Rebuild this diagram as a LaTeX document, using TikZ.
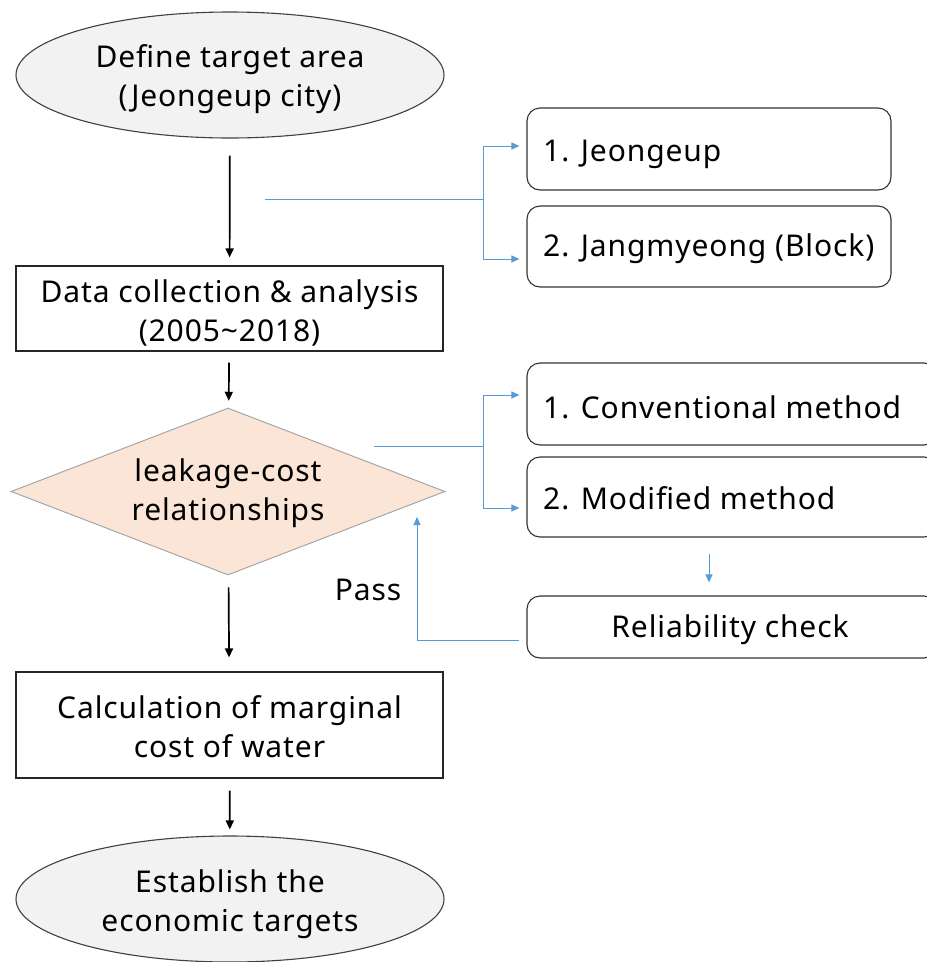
\documentclass[tikz,border=0pt]{standalone}
\usepackage{fontspec}
\setmainfont[LetterSpace=3]{Noto Sans}
\usetikzlibrary{shapes.geometric,arrows.meta,calc}
\definecolor{ellfill}{HTML}{F2F2F2}
\definecolor{ellline}{HTML}{404040}
\definecolor{diafill}{HTML}{FBE5D6}
\definecolor{dialine}{HTML}{A6A6A6}
\definecolor{bl}{HTML}{5B9BD5}
\tikzset{
  txt/.style={font=\fontsize{30}{39}\selectfont, inner sep=0pt},
  term/.style={ellipse, draw=ellline, fill=ellfill, line width=1.1pt, minimum width=428pt, minimum height=126pt, inner sep=0pt},
  procbox/.style={rectangle, draw=black!85, line width=1.1pt, minimum width=427pt, inner sep=0pt},
  decis/.style={diamond, draw=dialine, fill=diafill, line width=1pt, minimum width=434pt, minimum height=167pt, inner sep=0pt},
  optbox/.style={rectangle, rounded corners=13pt, draw=black!80, line width=1.1pt, inner sep=0pt},
  blarr/.style={draw=bl, line width=1pt, -{Triangle[length=8pt,width=7pt]}},
  blline/.style={draw=bl, line width=1pt},
  blkarr/.style={draw=black, line width=1.7pt, -{Triangle[length=9pt,width=8pt]}},
}
\begin{document}
\begin{tikzpicture}[x=1pt,y=-1pt]
\useasboundingbox (0,0) rectangle (927,962);
% main column shapes
\node[term] (top) at (230,75) {};
\node[procbox, minimum height=85pt] (data) at (229.5,308.5) {};
\node[decis] (dia) at (228,491.5) {};
\node[procbox, minimum height=106pt] (calc) at (229.5,725) {};
\node[term] (bot) at (230,899) {};
% main column texts
\node[txt, align=center] (toptext) at (230,79) {Define target area\\(Jeongeup city)};
\node[txt, align=center] (datatext) at (229.5,313) {Data collection \& analysis\\(2005\textasciitilde 2018)};
\node[txt, align=center] (diatext) at (228,493.5) {leakage-cost\\relationships};
\node[txt, align=center] (calctext) at (229.5,727) {Calculation of marginal\\cost of water};
\node[txt, align=center] (bottext) at (230,904) {Establish the\\economic targets};
% side boxes
\node[optbox, minimum width=364pt, minimum height=82pt] (j1) at (709,149) {};
\node[optbox, minimum width=364pt, minimum height=81pt] (j2) at (709,246.5) {};
\node[optbox, minimum width=410pt, minimum height=82pt] (c1) at (732,404) {};
\node[optbox, minimum width=410pt, minimum height=80pt] (m2) at (732,497) {};
\node[optbox, minimum width=410pt, minimum height=62pt] (rel) at (732,627) {};
\node[txt, anchor=west] (j1text) at (543,154) {1. Jeongeup};
\node[txt, anchor=west] (j2text) at (543,249) {2. Jangmyeong (Block)};
\node[txt, anchor=west] (c1text) at (543,407) {1. Conventional method};
\node[txt, anchor=west] (m2text) at (543,498) {2. Modified method};
\node[txt] (reltext) at (730,630) {Reliability check};
\node[txt] (pass) at (368,590) {Pass};
% black arrows
\draw[blkarr, shorten <=17pt, shorten >=8pt] (top) -- (data);
\draw[blkarr, shorten <=11pt, shorten >=7pt] (data) -- (dia);
\draw[blkarr, shorten <=12pt, shorten >=14pt] (dia) -- (calc);
\draw[blkarr, shorten <=12pt, shorten >=6pt] (calc) -- (bot);
% blue branches
\coordinate (s1) at (265,199);
\coordinate (b1) at (483,199);
\draw[blline] (s1) -- (b1);
\draw[blarr, shorten >=7pt] (b1) |- ([yshift=3pt]j1.west);
\draw[blarr, shorten >=7pt] (b1) |- ([yshift=-12.5pt]j2.west);
\coordinate (s2) at (374,446);
\coordinate (b2) at (483,446);
\draw[blline] (s2) -- (b2);
\draw[blarr, shorten >=7pt] (b2) |- ([yshift=9pt]c1.west);
\draw[blarr, shorten >=7pt] (b2) |- ([yshift=-11pt]m2.west);
\draw[blarr, shorten <=16pt, shorten >=13pt] ([xshift=-23pt]m2.south) -- ([xshift=-23pt]rel.north);
\coordinate (fb) at (417,517);
\draw[blarr, shorten <=7pt] ([yshift=-13pt]rel.west) -| (fb);
\end{tikzpicture}
\end{document}
